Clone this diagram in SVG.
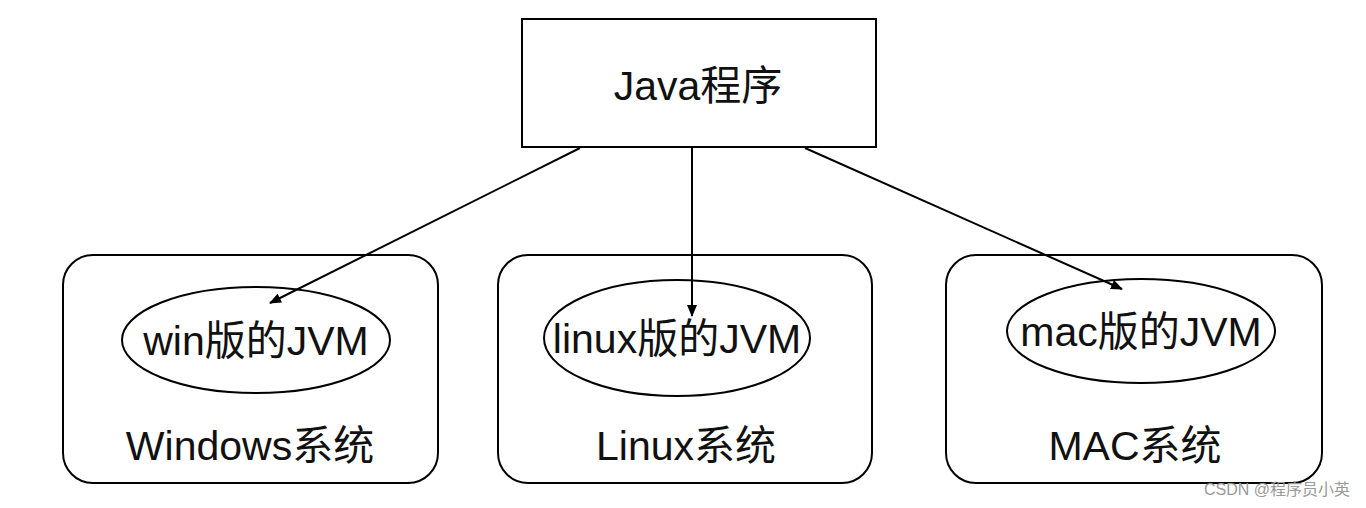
<svg xmlns="http://www.w3.org/2000/svg" width="1366" height="508" viewBox="0 0 1366 508">
<defs>
<marker id="ah" markerWidth="12" markerHeight="10" refX="11" refY="5" orient="auto" markerUnits="userSpaceOnUse"><path d="M0,0 L12,5 L0,10 Z" fill="#000"/></marker>
<style>
.s{fill:#fff;stroke:#000;stroke-width:2}
.t{font-family:"Liberation Sans","Noto Sans CJK SC",sans-serif;font-size:41px;text-anchor:middle;fill:#111}
.c{stroke:#000;stroke-width:2;fill:none;marker-end:url(#ah)}
</style>
</defs>
<rect width="1366" height="508" fill="#fff"/>
<g id="java"><rect class="s" x="522" y="19" width="354" height="128"/><text class="t" x="698" y="100">Java程序</text></g>
<g id="windows"><rect class="s" x="63" y="255" width="375" height="228" rx="30"/><ellipse class="s" cx="256" cy="340" rx="134" ry="53"/><text class="t" x="256" y="355">win版的JVM</text><text class="t" x="250" y="460">Windows系统</text></g>
<g id="linux"><rect class="s" x="498" y="255" width="374" height="228" rx="30"/><ellipse class="s" cx="677" cy="338" rx="133" ry="58"/><text class="t" x="677" y="353">linux版的JVM</text><text class="t" x="686" y="460">Linux系统</text></g>
<g id="mac"><rect class="s" x="946" y="255" width="376" height="228" rx="30"/><ellipse class="s" cx="1141" cy="331" rx="134" ry="52"/><text class="t" x="1141" y="346">mac版的JVM</text><text class="t" x="1135" y="460">MAC系统</text></g>
<g id="connectors">
<line class="c" x1="580" y1="148" x2="270" y2="303"/>
<line class="c" x1="692" y1="148" x2="692" y2="316"/>
<line class="c" x1="805" y1="148" x2="1122" y2="289"/>
</g>
<text x="1350" y="495" font-family="Liberation Sans,Noto Sans CJK SC,sans-serif" font-size="16" fill="#999" text-anchor="end">CSDN @程序员小英</text>
</svg>
